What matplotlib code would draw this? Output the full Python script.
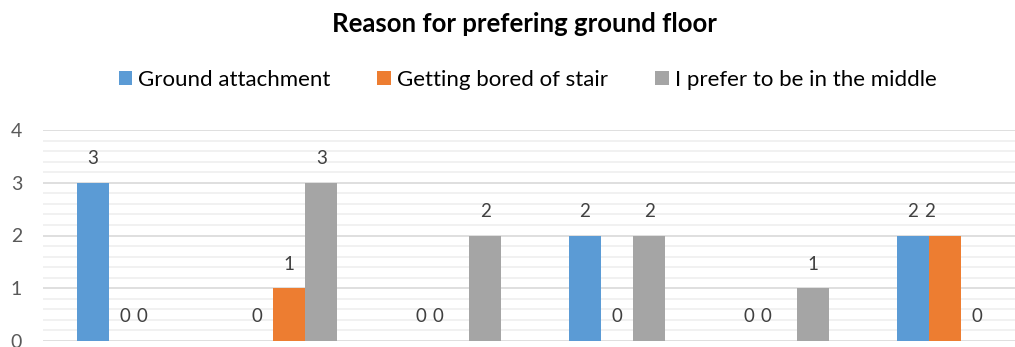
import numpy as np
import matplotlib
matplotlib.use("Agg")
import matplotlib.pyplot as plt
from matplotlib.patches import Patch

# Responses per group
groups = ["1", "2", "3", "4", "5", "6"]
series_names = ["Ground attachment", "Getting bored of stair", "I prefer to be in the middle"]
ground_attachment = [3, 0, 0, 2, 0, 2]
bored_of_stair = [0, 1, 0, 0, 0, 2]
prefer_middle = [0, 3, 2, 2, 1, 0]
y_ticks = [0, 1, 2, 3, 4]

colors = ["#5B9BD5", "#ED7D31", "#A5A5A5"]
font = "Lato"

W, H = 1015, 347
fig = plt.figure(figsize=(W / 100, H / 100), dpi=100)
fig.patch.set_facecolor("white")

left, right, bottom, top = 43, 1027, 341, 130
ax = fig.add_axes([left / W, (H - bottom) / H, (right - left) / W, (bottom - top) / H])
ax.set_facecolor("white")

x = np.arange(len(groups))
width = 0.197
all_series = [ground_attachment, bored_of_stair, prefer_middle]
for i, (vals, col) in enumerate(zip(all_series, colors)):
    pos = x + (i - 1) * width
    ax.bar(pos, vals, width=width, color=col, linewidth=0, zorder=3)
    for g, (px, v) in enumerate(zip(pos, vals)):
        # equal neighbouring labels sit close together, like "0 0"
        dx = -15 if (i > 0 and all_series[i - 1][g] == v) else 0
        ax.annotate(str(v), (px, v), xytext=(dx, 24), textcoords="offset pixels",
                    ha="center", va="center", fontsize=13.5, color="#404040",
                    family=font, zorder=4)

ax.set_xlim(-0.5, len(groups) - 0.5)
ax.set_ylim(0, 4)
ax.set_yticks(y_ticks)
ax.set_yticklabels([str(t) for t in y_ticks], family=font, fontsize=14, color="#595959")
ax.set_yticks(np.arange(0, 4.01, 0.2), minor=True)
ax.tick_params(axis="y", which="both", length=0, pad=15)
ax.set_xticks([])
ax.grid(axis="y", which="minor", color="#EFEFEF", linewidth=1.2, zorder=0)
ax.grid(axis="y", which="major", color="#D9D9D9", linewidth=1.2, zorder=1)
for s in ax.spines.values():
    s.set_visible(False)

fig.text(524 / W, (H - 32) / H, "Reason for prefering ground floor", ha="center", va="baseline",
         fontsize=18.5, fontweight="bold", family=font, color="#000000")

handles = [Patch(facecolor=c, edgecolor="none") for c in colors]
leg = fig.legend(handles, series_names, loc="center", bbox_to_anchor=(527.5 / W, (H - 80) / H),
                 ncol=3, frameon=False, handlelength=0.62, handleheight=0.62,
                 handletextpad=0.27, columnspacing=2.1,
                 prop={"family": font, "size": 16})
for t in leg.get_texts():
    t.set_color("#000000")

fig.savefig("out.png", dpi=100, facecolor="white")
